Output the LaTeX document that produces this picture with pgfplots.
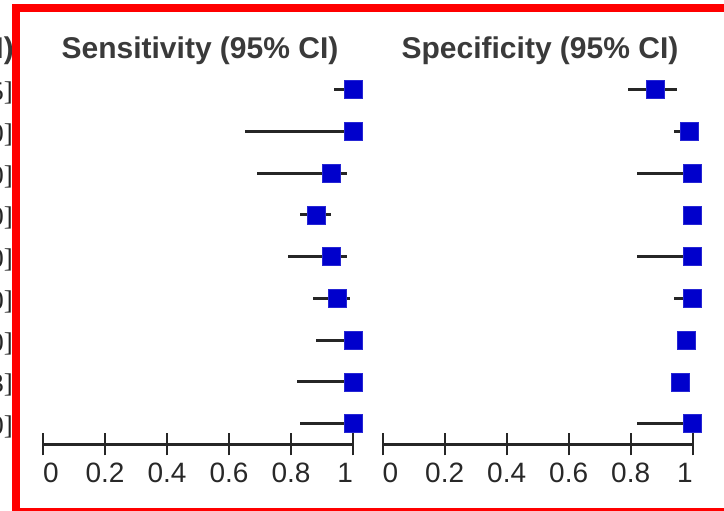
\documentclass[border=0pt]{standalone}
\usepackage{fontspec}
\setmainfont{Liberation Sans}
\newfontfamily\seriffont{Liberation Serif}
\usepackage{pgfplots}
\usepackage{pgfplotstable}
\pgfplotsset{compat=1.18}
\definecolor{sqblue}{RGB}{0,0,204}
\definecolor{titlegray}{RGB}{58,58,58}
\definecolor{tickgray}{RGB}{40,40,40}

\pgfplotstableread{
row est lo hi
9 1.00 0.94 1.00
8 1.00 0.65 1.00
7 0.93 0.69 0.98
6 0.88 0.83 0.93
5 0.93 0.79 0.98
4 0.95 0.87 0.99
3 1.00 0.88 1.00
2 1.00 0.82 1.00
1 1.00 0.83 1.00
}\sens

\pgfplotstableread{
row est lo hi
9 0.88 0.79 0.95
8 0.99 0.94 1.00
7 1.00 0.82 1.00
6 1.00 0.97 1.00
5 1.00 0.82 1.00
4 1.00 0.94 1.00
3 0.98 0.95 1.00
2 0.96 0.93 0.99
1 1.00 0.82 1.00
}\spec

\pgfplotsset{
  forest/.style={
    scale only axis,
    width=310pt, height=375.75pt,
    xmin=0, xmax=1, ymin=0.5, ymax=9.5,
    enlargelimits=false,
    clip=false,
    axis x line*=bottom,
    axis y line=none,
    x axis line style={-, line width=2.5pt, color=black!85},
    xtick={0,0.2,0.4,0.6,0.8,1},
    xticklabels={\makebox[0pt][l]{0},0.2,0.4,0.6,0.8,\makebox[0pt][r]{1}},
    xtick style={line width=2.2pt, color=black!85},
    major tick length=22pt,
    tick align=center,
    ytick=\empty,
    /pgf/number format/assume math mode=true,
    xticklabel style={anchor=base, yshift=-27.5pt, font=\fontsize{28}{32}\selectfont, text=tickgray, inner sep=0pt},
  },
  forestplot/.style={
    only marks,
    mark=square*,
    mark size=9pt,
    mark options={fill=sqblue, draw=sqblue!85!white, line width=0.6pt},
    error bars/.cd,
      x dir=both, x explicit,
      error mark=none,
      error bar style={line width=3.2pt, color=black!85},
  },
}

\begin{document}
\begin{tikzpicture}[x=1pt,y=1pt]
\useasboundingbox (0,0) rectangle (724,511);

% labels cropped at the left edge (drawn first, the frame covers them)
\node[anchor=base east, inner sep=0pt, text=titlegray] at (14,452.7) {\fontsize{30}{34}\selectfont\bfseries (95\% CI)};
\foreach \k/\t in {1/{[0.86, 0.95]},2/{[0.65, 1.00]},3/{[0.69, 1.00]},4/{[0.83, 1.00]},5/{[0.79, 1.00]},6/{[0.87, 1.00]},7/{[0.88, 1.00]},8/{[0.93]},9/{[0.83, 1.00]}}{
  \node[anchor=base east, inner sep=0pt, text=black!85] at (13,{511-89.6-(\k-1)*41.75-11}) {\fontsize{27}{30}\seriffont\selectfont \t};
}

% red frame
\fill[red] (12,0) rectangle (20,507);
\fill[red] (12,499) rectangle (724,507);
\fill[red] (12,0) rectangle (724,2.5);

% titles
\node[anchor=base, inner sep=0pt, text=titlegray] at (200,452.7) {\fontsize{30}{34}\selectfont\bfseries Sensitivity (95\% CI)};
\node[anchor=base, inner sep=0pt, text=titlegray] at (540,452.7) {\fontsize{30}{34}\selectfont\bfseries Specificity (95\% CI)};

\begin{axis}[forest, at={(43pt,66.5pt)}, anchor=south west]
\addplot+[forestplot] table[x=est, y=row,
  x error minus expr=\thisrow{est}-\thisrow{lo},
  x error plus expr=\thisrow{hi}-\thisrow{est}] {\sens};
\end{axis}

\begin{axis}[forest, at={(382.7pt,66.5pt)}, anchor=south west]
\addplot+[forestplot] table[x=est, y=row,
  x error minus expr=\thisrow{est}-\thisrow{lo},
  x error plus expr=\thisrow{hi}-\thisrow{est}] {\spec};
\end{axis}
\end{tikzpicture}
\end{document}
